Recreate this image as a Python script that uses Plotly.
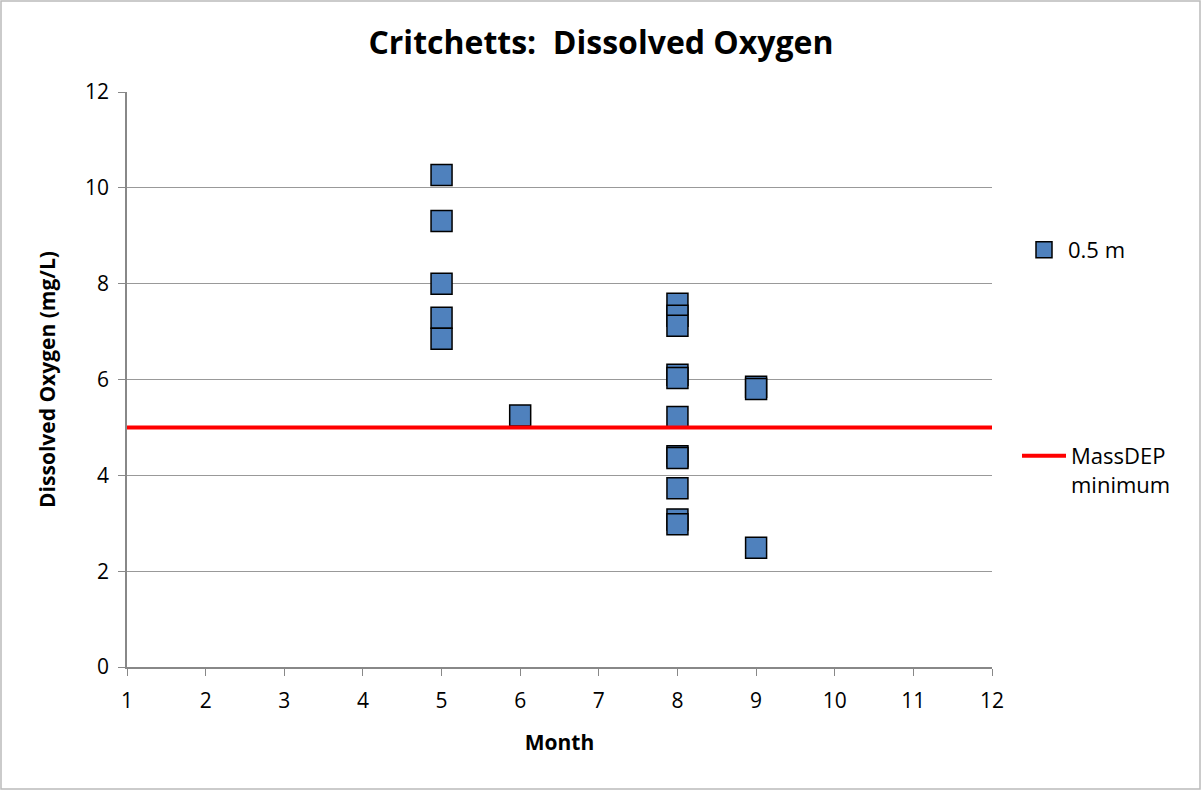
import plotly.graph_objects as go

months = [5, 5, 5, 5, 5, 6, 8, 8, 8, 8, 8, 8, 8, 8, 8, 8, 8, 9, 9, 9]
do_vals = [10.27, 9.31, 8.0, 7.29, 6.85, 5.25, 7.58, 7.33, 7.12, 6.10, 6.03,
           5.22, 4.40, 4.36, 3.73, 3.08, 2.98, 5.85, 5.80, 2.49]
min_x = [1, 12]
min_y = [5, 5]

FONT = "Open Sans"
W, H = 1202, 792
L, R, T, B = 127, 992, 92, 667

def px(x):
    return (x - L) / (R - L)

def py(y):
    return (B - y) / (B - T)

fig = go.Figure()
fig.add_trace(go.Scatter(
    x=months, y=do_vals, mode="markers", name="0.5 m",
    marker=dict(symbol="square", size=21, color="#4F81BD",
                line=dict(color="#000000", width=1.5)),
    legend="legend"))
fig.add_trace(go.Scatter(
    x=min_x, y=min_y, mode="lines", name="MassDEP<br>minimum",
    line=dict(color="#FF0000", width=4), legend="legend2"))

fig.update_layout(
    width=W, height=H,
    margin=dict(l=L, r=W - R, t=T, b=H - B),
    paper_bgcolor="white", plot_bgcolor="white",
    font=dict(family=FONT, size=20, color="#000000"),
    title=dict(text="<b>Critchetts:  Dissolved Oxygen</b>", x=0.5, xanchor="center",
               y=1 - 43 / H, yanchor="middle", font=dict(size=32, family=FONT)),
    xaxis=dict(range=[1, 12], tickvals=list(range(1, 13)), showgrid=False,
               showline=True, linecolor="#888888", linewidth=1.5,
               ticks="outside", ticklen=7, tickcolor="#888888",
               ticklabelstandoff=7, tickfont=dict(size=21),
               title=dict(text="<b>Month</b>", font=dict(size=21), standoff=22),
               zeroline=False),
    yaxis=dict(range=[0, 12], tickvals=list(range(0, 13, 2)), showgrid=True,
               gridcolor="#999999", gridwidth=1.2,
               showline=True, linecolor="#888888", linewidth=1.5,
               ticks="outside", ticklen=7, tickcolor="#888888",
               ticklabelstandoff=5, tickfont=dict(size=21),
               title=dict(text="<b>Dissolved Oxygen (mg/L)</b>", font=dict(size=21), standoff=24),
               zeroline=False),
    legend=dict(x=px(1020), y=py(250), xanchor="left", yanchor="middle",
                itemwidth=38,
                font=dict(size=22), bgcolor="rgba(0,0,0,0)"),
    legend2=dict(x=px(1017), y=py(435), xanchor="left", yanchor="top",
                 valign="top", itemwidth=44,
                 font=dict(size=22), bgcolor="rgba(0,0,0,0)"),
    showlegend=True,
)
fig.add_shape(type="rect", xref="paper", yref="paper",
              x0=px(1), x1=px(1200), y0=py(789), y1=py(1),
              line=dict(color="#BBBBBB", width=1.5), fillcolor="rgba(0,0,0,0)",
              layer="below")
fig.write_html("out.html", config={"displayModeBar": False},
               post_script="document.body.style.margin='0px';")
